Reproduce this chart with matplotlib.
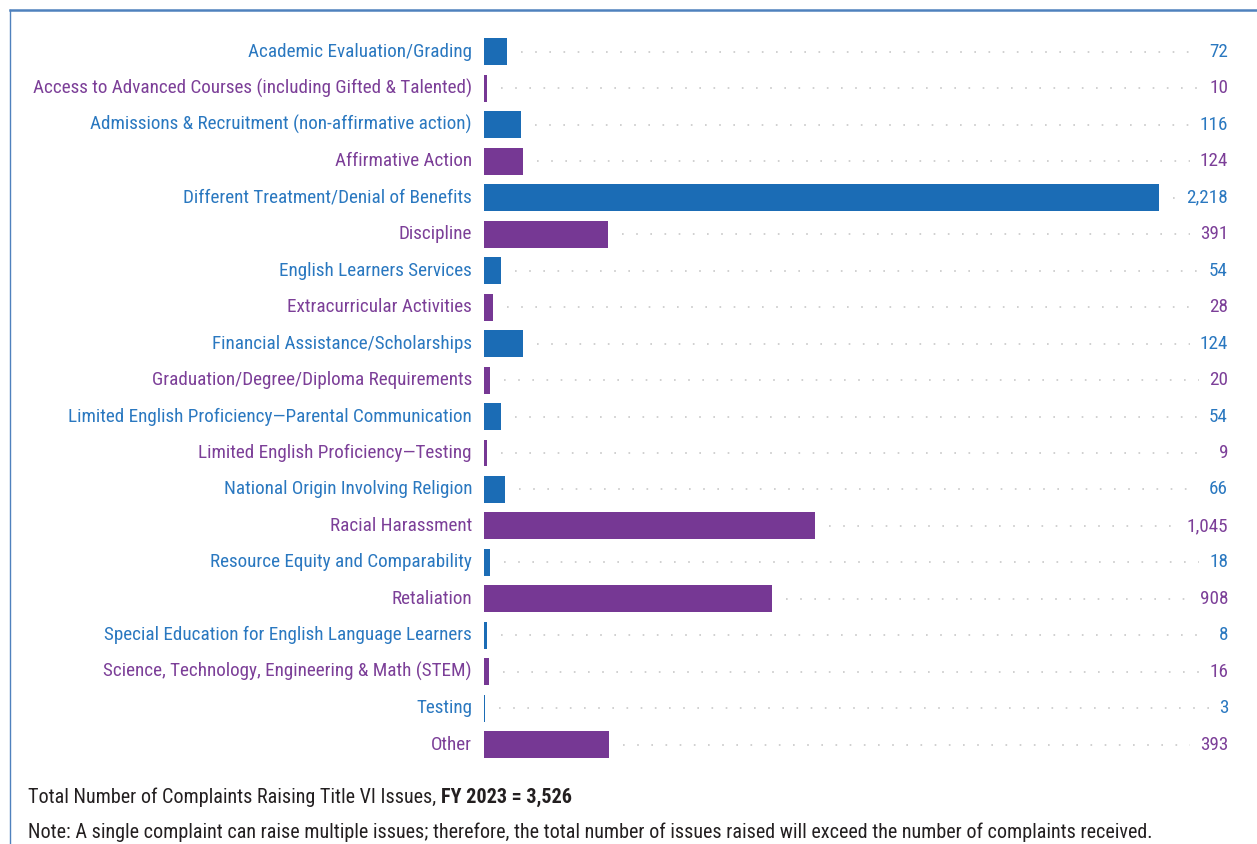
import matplotlib
matplotlib.use("Agg")
import matplotlib.pyplot as plt
from matplotlib.lines import Line2D
from matplotlib import font_manager

categories = [
    "Academic Evaluation/Grading",
    "Access to Advanced Courses (including Gifted & Talented)",
    "Admissions & Recruitment (non-affirmative action)",
    "Affirmative Action",
    "Different Treatment/Denial of Benefits",
    "Discipline",
    "English Learners Services",
    "Extracurricular Activities",
    "Financial Assistance/Scholarships",
    "Graduation/Degree/Diploma Requirements",
    "Limited English Proficiency\u2014Parental Communication",
    "Limited English Proficiency\u2014Testing",
    "National Origin Involving Religion",
    "Racial Harassment",
    "Resource Equity and Comparability",
    "Retaliation",
    "Special Education for English Language Learners",
    "Science, Technology, Engineering & Math (STEM)",
    "Testing",
    "Other",
]
values = [72, 10, 116, 124, 2218, 391, 54, 28, 124, 20, 54, 9, 66, 1045, 18, 908, 8, 16, 3, 393]

blue = "#1b6cb5"
purple = "#763894"
blue_txt = "#2a78c0"
purple_txt = "#7c3f98"

# condensed sans, like the original Helvetica Condensed
names = {f.name for f in font_manager.fontManager.ttflist}
font = "DejaVu Sans"
for cand in ["Roboto Condensed", "Liberation Sans Narrow", "Archivo Narrow",
             "PT Sans Narrow", "IBM Plex Sans Condensed", "Open Sans Condensed"]:
    if cand in names:
        font = cand
        break
plt.rcParams["font.family"] = [font, "DejaVu Sans"]

W, H = 1257, 844
fig = plt.figure(figsize=(W / 100, H / 100), dpi=100)
renderer = fig.canvas.get_renderer()


def fit_size(s, target_px, weight="normal"):
    t = fig.text(0, 0, s, fontsize=10, fontweight=weight)
    w = t.get_window_extent(renderer).width
    t.remove()
    return 10 * target_px / w


lab_fs = fit_size(categories[1], 439)
note = ("Note: A single complaint can raise multiple issues; therefore, the total "
        "number of issues raised will exceed the number of complaints received.")
note_fs = fit_size(note, 1120)

# the original is drawn at ~0.317 px per complaint; the longest bar is cut
# off at the right edge of the plotting area (x=1159px)
scale = 0.317
xmax = 675 / scale
ax = fig.add_axes([484 / W, 1 - 763 / H, 675 / W, 729.4 / H])
ax.set_xlim(0, xmax)
ax.set_ylim(len(values) - 0.5, -0.5)
ax.axis("off")

y = list(range(len(values)))
bar_cols = [blue if i % 2 == 0 else purple for i in y]
txt_cols = [blue_txt if i % 2 == 0 else purple_txt for i in y]
ax.barh(y, values, height=0.74, color=bar_cols)

px = 1 / scale  # data units per pixel
for i, (cat, v) in enumerate(zip(categories, values)):
    ax.text(-12 * px, i, cat, ha="right", va="center", fontsize=lab_fs,
            color=txt_cols[i], clip_on=False)
    t = ax.text((1228 - 484) * px, i, f"{v:,}", ha="right", va="center",
                fontsize=lab_fs, color=txt_cols[i], clip_on=False)
    tw = t.get_window_extent(renderer).width
    x0 = min(v, xmax) + 14 * px
    x1 = (1228 - 484 - tw - 10) * px
    if x1 > x0:
        ax.plot([x0, x1], [i, i], color="#c8c8c8", lw=1.2,
                linestyle=(0, (1, 7.5)), clip_on=False)

t0 = fig.text(28 / W, 1 - 797 / H, "Total Number of Complaints Raising Title VI Issues, ",
              fontsize=note_fs, color="#231f20", va="center")
bb = t0.get_window_extent(renderer)
fig.text(bb.x1 / W, 1 - 797 / H, "FY 2023 = 3,526", fontsize=note_fs, color="#231f20",
         va="center", fontweight="bold")
fig.text(28 / W, 1 - 832 / H, note, fontsize=note_fs, color="#231f20", va="center")

# frame lines
fig.add_artist(Line2D([10 / W, 1], [1 - 10 / H, 1 - 10 / H], color="#4f81bd", lw=1.8))
fig.add_artist(Line2D([10 / W, 10 / W], [0, 1 - 10 / H], color="#4f81bd", lw=1.0))

fig.savefig("out.png", dpi=100)
